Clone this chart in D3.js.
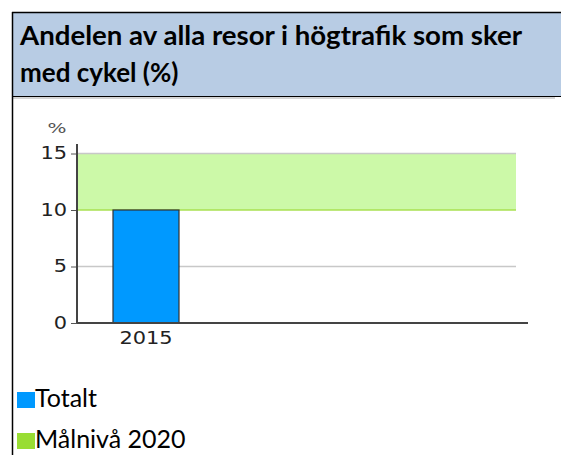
<!DOCTYPE html>
<html><head><meta charset="utf-8">
<script src="https://cdn.jsdelivr.net/npm/d3@7"></script>
<style>body{margin:0;background:#fff}svg{display:block}</style>
</head><body>
<script>
const titleLines = ["Andelen av alla resor i högtrafik som sker", "med cykel (%)"];
const categories = ["2015"];
const totalt = [10];
const target = [10, 15];
const yTicks = [0, 5, 10, 15];
const legendItems = ["Totalt", "Målnivå 2020"];
const legendColors = ["#0099ff", "#99dd33"];

const W = 561, H = 455;
const svg = d3.select("body").append("svg").attr("width", W).attr("height", H);

// header
svg.append("rect").attr("x", 12).attr("y", 12).attr("width", W - 12).attr("height", 84).attr("fill", "#b8cce4");
svg.append("line").attr("x1", 12).attr("x2", W).attr("y1", 12.5).attr("y2", 12.5).attr("stroke", "#000").attr("stroke-width", 1.5);
svg.append("line").attr("x1", 12).attr("x2", W).attr("y1", 96.5).attr("y2", 96.5).attr("stroke", "#000").attr("stroke-width", 1);
svg.append("line").attr("x1", 12).attr("x2", 555).attr("y1", 98).attr("y2", 98).attr("stroke", "#aaa").attr("stroke-width", 1);
svg.append("line").attr("x1", 12.5).attr("x2", 12.5).attr("y1", 12).attr("y2", H).attr("stroke", "#000").attr("stroke-width", 1.5);

svg.selectAll("text.title").data(titleLines).join("text").attr("class", "title")
  .attr("x", 20).attr("y", (d, i) => 45 + i * 37)
  .style("font-family", "Lato, 'Open Sans', sans-serif").style("font-weight", "bold")
  .style("font-size", "26px").attr("fill", "#000")
  .attr("textLength", (d, i) => i === 0 ? 502 : null)
  .attr("lengthAdjust", "spacingAndGlyphs")
  .text(d => d);

// chart
const x0 = 77, x1 = 528, gridEnd = 516;
const y = d3.scaleLinear().domain([0, 15]).range([323, 153.5]);
const x = d3.scaleBand().domain(categories).range([113, 179]).padding(0);

const g = svg.append("g");
g.append("rect").attr("x", x0).attr("width", gridEnd - x0)
  .attr("y", y(target[1])).attr("height", y(target[0]) - y(target[1])).attr("fill", "#ccf9a8");
g.selectAll("line.grid").data(yTicks.filter(d => d > 0 && d !== target[0])).join("line")
  .attr("x1", x0).attr("x2", gridEnd).attr("y1", d => y(d)).attr("y2", d => y(d))
  .attr("stroke", "#c8c8c8").attr("stroke-width", 1.5);
g.append("line").attr("x1", x0).attr("x2", gridEnd).attr("y1", y(target[0])).attr("y2", y(target[0]))
  .attr("stroke", "#a8e050").attr("stroke-width", 1.5);

g.selectAll("rect.bar").data(totalt).join("rect").attr("class", "bar")
  .attr("x", (d, i) => x(categories[i])).attr("width", x.bandwidth())
  .attr("y", d => y(d)).attr("height", d => y(0) - y(d))
  .attr("fill", "#0099ff").attr("stroke", "#333").attr("stroke-width", 1.2);

const numFont = "'DejaVu Sans', Verdana, sans-serif";
const yAxis = d3.axisLeft(y).tickValues(yTicks).tickSize(6).tickPadding(4);
const ya = svg.append("g").attr("transform", `translate(${x0},0)`).call(yAxis);
ya.select(".domain").remove();
ya.selectAll(".tick line").attr("stroke", "#555");
ya.selectAll("text").style("font-family", numFont).style("font-size", "17px").attr("fill", "#222")
  .attr("textLength", d => String(d).length * 13.3).attr("lengthAdjust", "spacingAndGlyphs");
svg.append("line").attr("x1", x0).attr("x2", x0).attr("y1", 144).attr("y2", y(0)).attr("stroke", "#444").attr("stroke-width", 2);
svg.append("line").attr("x1", x0).attr("x2", x1).attr("y1", y(0)).attr("y2", y(0)).attr("stroke", "#444").attr("stroke-width", 2);

const xAxis = d3.axisBottom(x).tickSize(0).tickPadding(9);
const xa = svg.append("g").attr("transform", `translate(0,${y(0)})`).call(xAxis);
xa.select(".domain").remove();
xa.selectAll("text").style("font-family", numFont).style("font-size", "17px").attr("fill", "#222")
  .attr("textLength", d => d.length * 13.3).attr("lengthAdjust", "spacingAndGlyphs");

svg.append("text").attr("x", 57).attr("y", 133).attr("text-anchor", "middle")
  .style("font-family", numFont).style("font-size", "14px").attr("fill", "#555")
  .attr("textLength", 19).attr("lengthAdjust", "spacingAndGlyphs").text("%");

const lg = svg.selectAll("g.leg").data(legendItems).join("g").attr("class", "leg")
  .attr("transform", (d, i) => `translate(17,${392 + i * 41})`);
lg.append("rect").attr("width", 18).attr("height", 16).attr("fill", (d, i) => legendColors[i]);
lg.append("text").attr("x", 18).attr("y", 15).style("font-family", "Lato, 'Open Sans', sans-serif")
  .style("font-size", "25px").attr("fill", "#000").text(d => d);
</script>
</body></html>
